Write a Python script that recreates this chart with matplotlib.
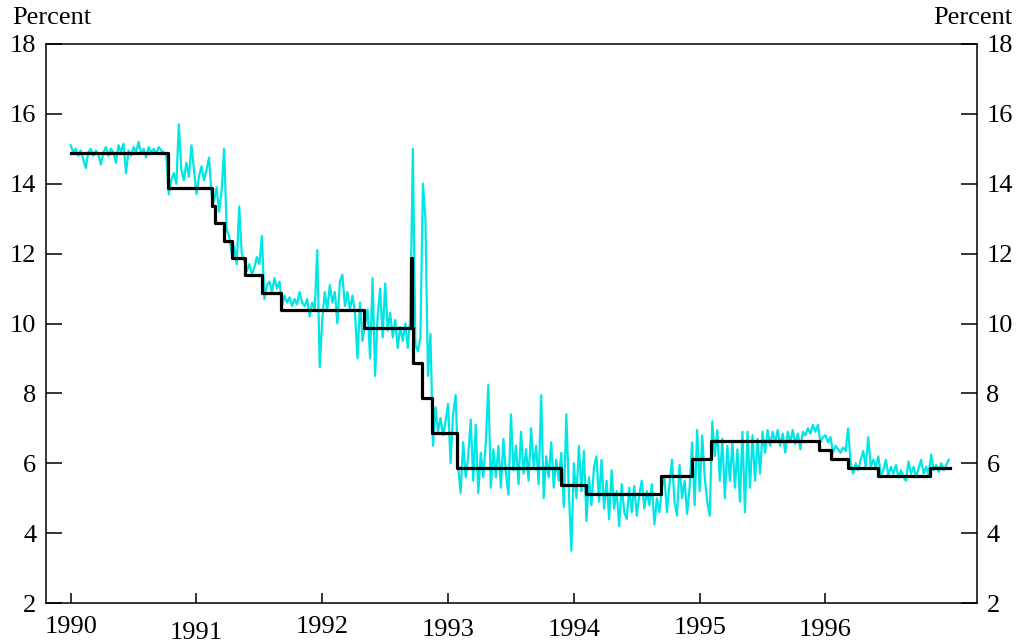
import numpy as np
import matplotlib
matplotlib.use("Agg")
import matplotlib.pyplot as plt

# daily market rate, ~50 samples per year
rate_1990 = [15.1, 14.9, 15.0, 14.8, 14.95, 14.7, 14.45, 14.9, 15.0, 14.8,
             14.95, 14.85, 14.55, 14.9, 15.05, 14.8, 15.0, 14.9, 14.6, 15.1,
             14.9, 15.15, 14.3, 14.95, 14.8, 15.05, 14.9, 15.2, 14.85, 15.0,
             14.75, 15.05, 14.9, 15.0, 14.85, 15.05, 14.95, 14.9, 14.8, 13.7,
             14.1, 14.3, 14.0, 15.7, 14.4, 14.1, 14.6, 14.2, 15.1, 14.4]
rate_1991 = [13.7, 14.2, 14.5, 14.1, 14.4, 14.75, 13.7, 13.5, 13.9, 13.2,
             13.8, 15.0, 12.7, 12.5, 12.0, 12.2, 11.7, 13.35, 12.0, 11.8,
             11.5, 11.7, 11.4, 11.6, 11.9, 11.7, 12.5, 10.7, 11.1, 11.2,
             10.9, 11.3, 11.0, 11.2, 10.5, 10.8, 10.6, 10.75, 10.5, 10.7,
             10.55, 10.9, 10.6, 10.5, 10.7, 10.2, 10.6, 10.4, 12.1, 8.75]
rate_1992 = [10.1, 10.9, 10.4, 11.1, 10.6, 10.9, 10.0, 11.2, 11.4, 10.5,
             10.9, 10.4, 10.8, 10.3, 9.0, 10.6, 9.5, 10.0, 10.4, 9.0,
             11.3, 8.5, 10.2, 11.0, 9.6, 11.15, 9.8, 10.3, 9.6, 10.1,
             9.3, 9.9, 9.5, 10.0, 9.3, 10.2, 15.0, 9.4, 9.2, 9.6,
             14.0, 13.0, 8.5, 9.7, 6.5, 7.6, 6.9, 7.3, 6.8, 7.2]
rate_1993 = [7.7, 6.0, 7.4, 7.95, 5.9, 5.15, 6.6, 5.6, 6.2, 7.25,
             5.5, 7.1, 5.15, 6.3, 5.6, 6.6, 8.25, 5.3, 6.4, 5.6,
             6.5, 5.3, 6.7, 5.7, 5.1, 7.4, 5.8, 6.5, 5.4, 6.9,
             5.7, 6.4, 5.5, 7.0, 5.9, 6.5, 5.4, 7.95, 5.0, 6.2,
             5.6, 6.6, 5.3, 6.1, 5.5, 6.3, 4.75, 7.4, 5.2, 3.5]
rate_1994 = [6.0, 5.0, 6.5, 5.2, 6.35, 4.35, 5.6, 4.8, 5.9, 6.2,
             4.9, 6.1, 4.7, 5.5, 4.4, 5.8, 4.7, 5.2, 4.2, 5.4,
             4.6, 4.4, 5.3, 4.6, 5.35, 4.5, 5.1, 5.5, 4.7, 5.2,
             4.8, 5.4, 4.25, 5.0, 4.6, 5.3, 5.6, 4.6, 5.4, 6.1,
             4.9, 4.5, 5.95, 5.0, 5.5, 4.55, 5.3, 6.6, 4.8, 6.95]
rate_1995 = [5.2, 6.8, 5.6, 4.9, 4.5, 7.2, 6.2, 6.95, 5.5, 6.7,
             5.0, 6.5, 5.5, 6.6, 5.3, 6.4, 4.9, 6.9, 4.6, 6.9,
             5.3, 6.8, 5.5, 6.7, 5.7, 6.9, 6.3, 6.95, 6.5, 6.9,
             6.6, 6.95, 6.5, 6.85, 6.3, 6.9, 6.6, 6.95, 6.55, 6.85,
             6.4, 6.9, 6.8, 7.0, 6.85, 7.1, 6.9, 7.1, 6.6, 6.75]
rate_1996 = [6.8, 6.6, 6.75, 6.3, 6.5, 6.4, 6.3, 6.45, 6.35, 7.0,
             6.0, 5.7, 6.0, 5.8, 6.1, 6.35, 5.9, 6.75, 5.9, 6.1,
             5.9, 6.2, 5.65, 5.8, 6.1, 5.65, 5.9, 5.7, 5.95, 5.6,
             5.8, 5.6, 5.5, 6.05, 5.7, 5.9, 5.6, 5.85, 6.1, 5.7,
             5.9, 5.65, 6.25, 5.8, 5.95, 5.75, 6.0, 5.8, 5.95, 6.1]
yearly_rates = {1990: rate_1990, 1991: rate_1991, 1992: rate_1992, 1993: rate_1993,
                1994: rate_1994, 1995: rate_1995, 1996: rate_1996}

# official (step) rate: change dates as year fractions and new levels
step_dates = [1990.0, 1990.77, 1991.12, 1991.15, 1991.22, 1991.28, 1991.385,
              1991.52, 1991.67, 1992.33, 1992.705, 1992.712, 1992.72, 1992.79,
              1992.87, 1993.07, 1993.90, 1994.10, 1994.69, 1994.94, 1995.09,
              1995.95, 1996.04, 1996.18, 1996.42, 1996.83, 1996.99]
step_levels = [14.875, 13.875, 13.375, 12.875, 12.375, 11.875, 11.375,
               10.875, 10.375, 9.875, 11.875, 9.875, 8.875, 7.875,
               6.875, 5.875, 5.375, 5.125, 5.625, 6.125, 6.625,
               6.375, 6.125, 5.875, 5.625, 5.875, 5.875]

years = [1990, 1991, 1992, 1993, 1994, 1995, 1996]
year_label_px = [627, 633, 627, 630, 630, 628, 630]   # label centres, pixels from top
y_ticks = [2, 4, 6, 8, 10, 12, 14, 16, 18]

# build time axis for the market rate
dates = []
values = []
for yr in years:
    vals = yearly_rates[yr]
    dates.extend(yr + np.arange(len(vals)) / len(vals))
    values.extend(vals)

plt.rcParams["font.family"] = ["Liberation Serif", "DejaVu Serif"]
fs = 19

fig = plt.figure(figsize=(10.16, 6.43), dpi=100)
ax = fig.add_axes([46 / 1016, 1 - 603 / 643, (976.7 - 46) / 1016, (603 - 44) / 643])

ax.plot(dates, values, color="#00e5e5", linewidth=1.6)
ax.plot(step_dates, step_levels, drawstyle="steps-post", color="black", linewidth=2.3)

ax.set_xlim(1989.804, 1997.202)
ax.set_ylim(2, 18)

for s in ax.spines.values():
    s.set_linewidth(1.1)

ax.set_yticks(y_ticks)
ax.tick_params(axis="y", which="both", direction="in", length=11.5, width=1.1,
               left=True, right=True, labelleft=True, labelright=True,
               labelsize=fs, pad=7)
ax.set_xticks(years)
ax.set_xticklabels([])
ax.tick_params(axis="x", direction="in", length=7, width=1.1)

# staggered year labels
for yr, py in zip(years, year_label_px):
    ax.text(yr, -(py - 603) / 559, str(yr), transform=ax.get_xaxis_transform(),
            ha="center", va="center", fontsize=fs)

fig.text(12 / 1016, 1 - 18 / 643, "Percent", ha="left", va="center", fontsize=fs)
fig.text(1012 / 1016, 1 - 18 / 643, "Percent", ha="right", va="center", fontsize=fs)

fig.savefig("out.png", dpi=100)
